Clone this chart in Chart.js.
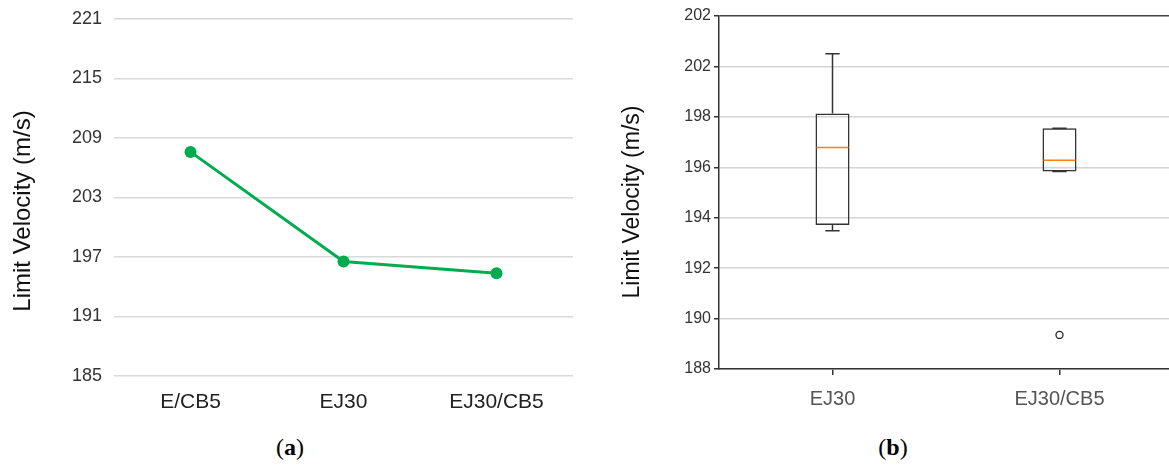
<!DOCTYPE html>
<html>
<head>
<meta charset="utf-8">
<script src="https://cdn.jsdelivr.net/npm/chart.js@4/dist/chart.umd.min.js"></script>
<style>
    html, body { margin: 0; padding: 0; background: #fff; }
    #wrap { position: relative; width: 1169px; height: 465px; overflow: hidden; }
    #chartA { position: absolute; left: 0; top: 0; }
    #chartB { position: absolute; left: 600px; top: 0; }
    .cap { position: absolute; top: 434px; font-family: "Liberation Serif", "DejaVu Serif", serif; font-size: 24px; color: #000; transform: translateX(-50%); }
    .cap b { font-weight: bold; }
</style>
</head>
<body>
<div id="wrap">
    <canvas id="chartA" width="590" height="420"></canvas>
    <canvas id="chartB" width="620" height="420"></canvas>
    <div class="cap" style="left:290px">(<b>a</b>)</div>
    <div class="cap" style="left:893px">(<b>b</b>)</div>
</div>
<script>
// panel (a): mean limit velocity per configuration
var lineLabels = ['E/CB5', 'EJ30', 'EJ30/CB5'];
var lineValues = [207.6, 196.55, 195.35];
var lineTicks = [185, 191, 197, 203, 209, 215, 221];

// panel (b): box plot statistics
var boxLabels = ['EJ30', 'EJ30/CB5'];
var boxWhiskerLow = [193.48, 195.83];
var boxQ1 = [193.71, 195.83];
var boxMedian = [196.78, 196.28];
var boxQ3 = [198.13, 197.55];
var boxWhiskerHigh = [200.5, 197.55];
var boxOutliers = [[], [189.35]];
var boxTickLabels = ['188', '190', '192', '194', '196', '198', '202', '202'];

var FONT = 'Liberation Sans, Arial, sans-serif';

// rotated y title placed beside the axis (a bit lower than chart.js would centre it)
var sideTitle = {
    id: 'sideTitle',
    afterDraw: function(chart, args, opts) {
        if (!opts.text) return;
        var c = chart.ctx;
        c.save();
        c.translate(opts.x, opts.y);
        c.rotate(-Math.PI / 2);
        c.fillStyle = '#111';
        c.font = opts.size + 'px ' + FONT;
        c.textAlign = 'center';
        c.textBaseline = 'middle';
        c.fillText(opts.text, 0, 0);
        c.restore();
    }
};

// line chart
new Chart(document.getElementById('chartA'), {
    type: 'line',
    data: {
        labels: lineLabels,
        datasets: [{
            data: lineValues,
            borderColor: '#00ac4e',
            backgroundColor: '#00ac4e',
            borderWidth: 3,
            pointRadius: 6,
            pointBorderWidth: 0,
            tension: 0
        }]
    },
    plugins: [sideTitle],
    options: {
        responsive: false,
        animation: false,
        layout: { padding: { top: 19, right: 17, bottom: 0, left: 0 } },
        plugins: {
            legend: { display: false },
            tooltip: { enabled: false },
            sideTitle: { text: 'Limit Velocity (m/s)', x: 23, y: 211, size: 24 }
        },
        scales: {
            x: {
                offset: true,
                grid: { display: false },
                border: { display: false },
                ticks: { color: '#222', font: { family: FONT, size: 21 }, padding: 6 },
                afterFit: function(s) { s.height = 44; s.paddingLeft = 0; s.paddingRight = 0; }
            },
            y: {
                min: lineTicks[0],
                max: lineTicks[lineTicks.length - 1],
                afterBuildTicks: function(s) { s.ticks = lineTicks.map(function(v) { return { value: v }; }); },
                grid: { color: '#d9d9d9', lineWidth: 1.5, drawTicks: false },
                border: { display: false },
                ticks: { color: '#333', font: { family: FONT, size: 18 }, padding: 12 },
                afterFit: function(s) { s.width = 114; s.paddingTop = 0; s.paddingBottom = 0; }
            }
        }
    }
});

// whiskers, caps and medians drawn through the chart scales
var boxExtras = {
    id: 'boxExtras',
    afterDatasetsDraw: function(chart) {
        var c = chart.ctx, xs = chart.scales.x, ys = chart.scales.y;
        var meta = chart.getDatasetMeta(0);
        c.save();
        boxLabels.forEach(function(lbl, i) {
            var bar = meta.data[i];
            var half = bar.width / 2;
            var cx = xs.getPixelForValue(i);
            var capHalf = half * 0.42;
            c.strokeStyle = '#333';
            c.lineWidth = 1.5;
            c.beginPath();
            c.moveTo(cx, ys.getPixelForValue(boxQ3[i]));
            c.lineTo(cx, ys.getPixelForValue(boxWhiskerHigh[i]));
            c.moveTo(cx - capHalf, ys.getPixelForValue(boxWhiskerHigh[i]));
            c.lineTo(cx + capHalf, ys.getPixelForValue(boxWhiskerHigh[i]));
            c.moveTo(cx, ys.getPixelForValue(boxQ1[i]));
            c.lineTo(cx, ys.getPixelForValue(boxWhiskerLow[i]));
            c.moveTo(cx - capHalf, ys.getPixelForValue(boxWhiskerLow[i]));
            c.lineTo(cx + capHalf, ys.getPixelForValue(boxWhiskerLow[i]));
            c.stroke();
            c.strokeStyle = '#ff7f0e';
            c.beginPath();
            c.moveTo(cx - half + 1, ys.getPixelForValue(boxMedian[i]));
            c.lineTo(cx + half - 1, ys.getPixelForValue(boxMedian[i]));
            c.stroke();
        });
        c.restore();
    }
};

var outlierPoints = [];
boxOutliers.forEach(function(list, i) {
    list.forEach(function(v) { outlierPoints.push({ x: boxLabels[i], y: v }); });
});

new Chart(document.getElementById('chartB'), {
    type: 'bar',
    data: {
        labels: boxLabels,
        datasets: [{
            data: boxLabels.map(function(l, i) { return [boxQ1[i], boxQ3[i]]; }),
            backgroundColor: 'rgba(255,255,255,0)',
            borderColor: '#333',
            borderWidth: 1.5,
            borderSkipped: false,
            categoryPercentage: 1,
            barPercentage: 0.15
        }, {
            type: 'line',
            data: outlierPoints,
            showLine: false,
            pointRadius: 3.5,
            pointBackgroundColor: '#fff',
            pointBorderColor: '#222',
            pointBorderWidth: 1.3
        }]
    },
    plugins: [boxExtras, sideTitle],
    options: {
        responsive: false,
        animation: false,
        layout: { padding: { top: 16, right: 47, bottom: 0, left: 0 } },
        plugins: {
            legend: { display: false },
            tooltip: { enabled: false },
            sideTitle: { text: 'Limit Velocity (m/s)', x: 33, y: 202, size: 23 }
        },
        scales: {
            x: {
                grid: { offset: false, drawOnChartArea: false, tickLength: 6, tickColor: '#333', lineWidth: 1.5 },
                border: { color: '#333', width: 1.5 },
                ticks: { color: '#555', font: { family: FONT, size: 20 }, padding: 12 },
                afterFit: function(s) { s.height = 51; }
            },
            y: {
                min: 188,
                max: 202,
                ticks: {
                    stepSize: 2,
                    color: '#333',
                    font: { family: FONT, size: 16 },
                    padding: 3,
                    callback: function(v, i) { return boxTickLabels[i]; }
                },
                grid: {
                    color: function(ctx) { return ctx.tick && ctx.tick.value === 202 ? '#444' : '#d4d4d4'; },
                    lineWidth: 1.5,
                    tickLength: 5,
                    tickColor: '#333'
                },
                border: { color: '#333', width: 1.5 },
                afterFit: function(s) { s.width = 119; }
            }
        }
    }
});
</script>
</body>
</html>
